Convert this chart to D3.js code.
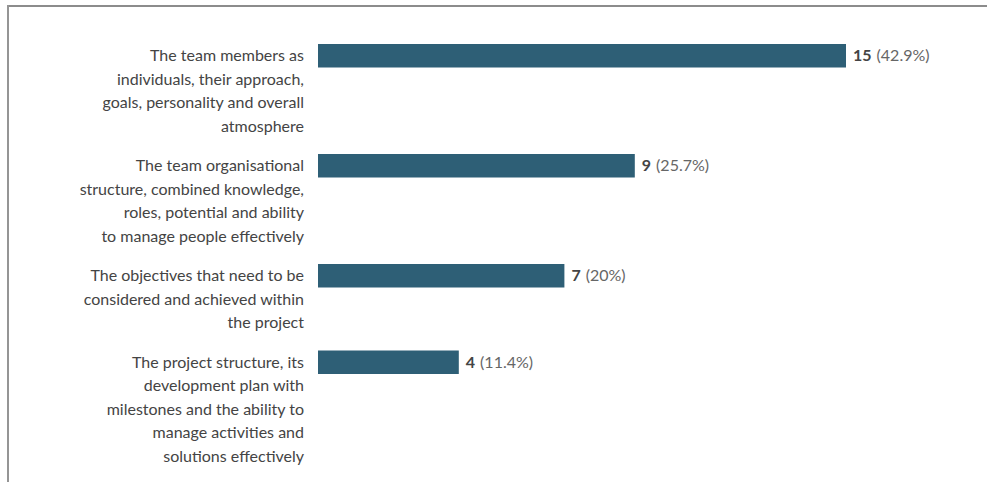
<!DOCTYPE html>
<html>
<head>
<meta charset="utf-8">
<script src="https://cdn.jsdelivr.net/npm/d3@7"></script>
<style>
  html, body { margin: 0; padding: 0; background: #fff; }
  svg { display: block; }
</style>
</head>
<body>
<script>
// Responses: what shapes a project team's work
const categories = [
  ["The team members as", "individuals, their approach,", "goals, personality and overall", "atmosphere"],
  ["The team organisational", "structure, combined knowledge,", "roles, potential and ability", "to manage people effectively"],
  ["The objectives that need to be", "considered and achieved within", "the project"],
  ["The project structure, its", "development plan with", "milestones and the ability to", "manage activities and", "solutions effectively"]
];
const counts = [15, 9, 7, 4];
const percents = ["42.9%", "25.7%", "20%", "11.4%"];

const W = 987, H = 482;
const lineH = 23.5;       // label line spacing, px
const gapLines = 16 / lineH; // space between rows, in line units
const barLines = 1;       // bar thickness, in line units

const svg = d3.select("body").append("svg")
  .attr("width", W).attr("height", H);

// frame: top and left rules
svg.append("line").attr("x1", 7).attr("x2", W).attr("y1", 6).attr("y2", 6)
  .attr("stroke", "#8c8c8c").attr("stroke-width", 2);
svg.append("line").attr("x1", 8).attr("x2", 8).attr("y1", 5).attr("y2", H)
  .attr("stroke", "#959595").attr("stroke-width", 2);

// rows are as tall as their wrapped label, so positions accumulate in line units
const starts = [];
let acc = 0;
categories.forEach((c, i) => { starts.push(acc); acc += c.length + gapLines; });

const y = d3.scaleLinear().domain([0, acc]).range([44, 44 + acc * lineH]);
const x = d3.scaleLinear().domain([0, 15]).range([318, 846]);

const rows = svg.selectAll("g.row").data(counts.map((v, i) => ({
  v, i, lines: categories[i], pct: percents[i], u: starts[i]
}))).join("g").attr("class", "row");

rows.append("rect")
  .attr("x", x(0))
  .attr("y", d => y(d.u))
  .attr("width", d => x(d.v) - x(0))
  .attr("height", d => y(d.u + barLines) - y(d.u))
  .attr("fill", "#2e5f76");

// category labels, right-aligned to the left of the bars
rows.each(function(d) {
  const t = d3.select(this).append("text")
    .attr("text-anchor", "end")
    .attr("font-family", "Lato, sans-serif")
    .attr("font-size", 16)
    .attr("fill", "#444");
  d.lines.forEach((ln, k) => {
    t.append("tspan")
      .attr("x", 304)
      .attr("y", y(d.u + k + barLines / 2))
      .attr("dy", "0.35em")
      .text(ln);
  });
});

// value labels: count (bold) and share
const val = rows.append("text")
  .attr("x", d => x(d.v) + 7)
  .attr("y", d => y(d.u + barLines / 2))
  .attr("dy", "0.35em")
  .attr("font-family", "Lato, sans-serif")
  .attr("font-size", 16);
val.append("tspan").attr("font-weight", "bold").attr("fill", "#444").text(d => d.v);
val.append("tspan").attr("fill", "#666").attr("dx", 5).text(d => "(" + d.pct + ")");
</script>
</body>
</html>
